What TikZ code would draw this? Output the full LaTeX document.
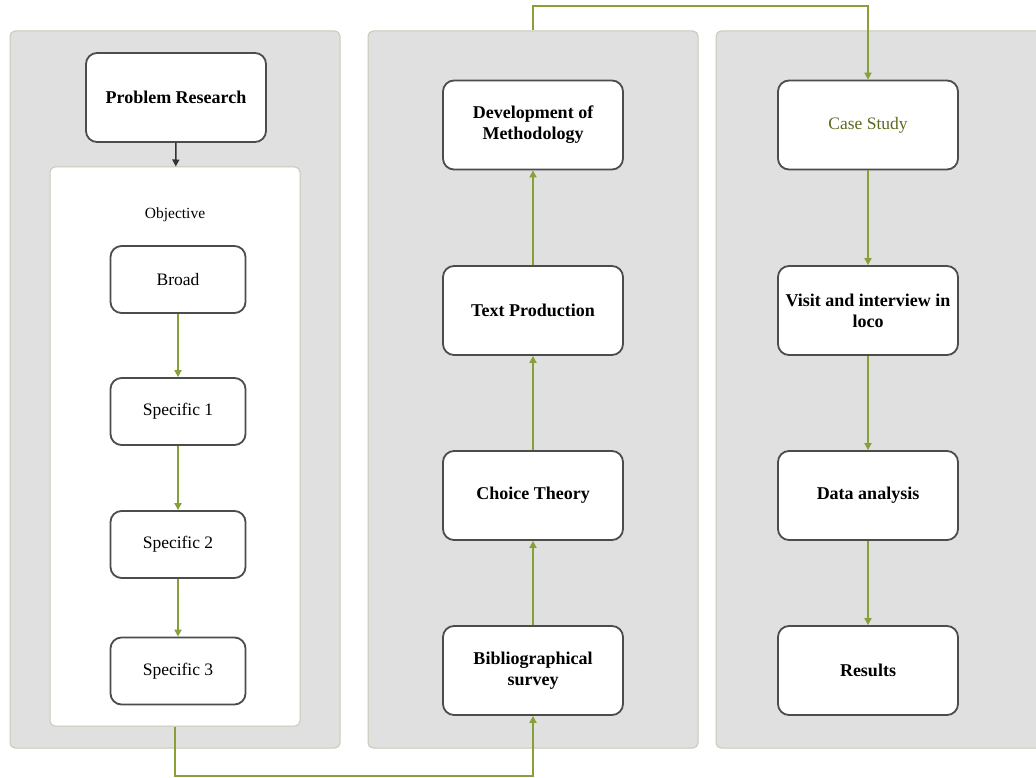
\documentclass[tikz,border=0pt]{standalone}
\usepackage{fontspec}
\setmainfont{Liberation Serif}
\usepackage{xcolor}
\usetikzlibrary{arrows.meta,positioning,calc}

\definecolor{panelgray}{RGB}{224,224,224}
\definecolor{panelline}{RGB}{200,200,184}
\definecolor{olive}{RGB}{135,160,55}
\definecolor{casegreen}{RGB}{95,105,30}

\tikzset{
  panel/.style={draw=panelline, fill=panelgray, rounded corners=5pt, line width=1pt},
  stepbox/.style={draw=black!70, fill=white, rounded corners=11pt, line width=1.8pt,
    minimum width=180pt, minimum height=89pt, align=center,
    font=\fontsize{18}{21}\selectfont\bfseries},
  smallbox/.style={stepbox, minimum width=135pt, minimum height=67pt,
    font=\fontsize{17.5}{21}\selectfont},
  flow/.style={draw=olive, line width=2pt, -{Triangle[width=7pt,length=7pt]}},
}

\begin{document}
\begin{tikzpicture}[x=1pt, y=-1pt]
  \useasboundingbox (0,0) rectangle (1036,778);

  % Panels
  \node[panel, minimum width=330pt, minimum height=717pt] (left)   at (175,389.5) {};
  \node[panel, minimum width=330pt, minimum height=717pt] (middle) at (533,389.5) {};
  \node[panel, minimum width=330pt, minimum height=717pt] (right)  at (881,389.5) {};

  % Left panel
  \node[stepbox] (problem) at (176,97.5) {Problem Research};
  \node[draw=panelline, fill=white, rounded corners=5pt, line width=1pt,
    minimum width=250pt, minimum height=559pt] (objective) at (175,446.5) {};
  \node[font=\fontsize{15.5}{18}\selectfont] (objtitle) at (175,215) {Objective};
  \node[smallbox] (broad) at (178,279.5) {Broad};
  \node[smallbox] (spec1) at (178,411.5) {Specific 1};
  \node[smallbox] (spec2) at (178,544.5) {Specific 2};
  \node[smallbox] (spec3) at (178,671)   {Specific 3};

  % Middle panel
  \node[stepbox] (method) at (533,125)   {Development of\\Methodology};
  \node[stepbox] (text)   at (533,310.5) {Text Production};
  \node[stepbox] (choice) at (533,495.5) {Choice Theory};
  \node[stepbox] (biblio) at (533,670.5) {Bibliographical\\survey};

  % Right panel
  \node[stepbox, font=\fontsize{17.5}{21}\selectfont, text=casegreen] (case) at (868,125) {Case Study};
  \node[stepbox] (visit)   at (868,310.5) {Visit and interview in\\loco};
  \node[stepbox] (data)    at (868,495.5) {Data analysis};
  \node[stepbox] (results) at (868,670.5) {Results};

  % Connectors
  \draw[line width=1.6pt, black!80, -{Triangle[width=7pt,length=7pt]}] (problem) -- (objective);
  \draw[flow] (broad) -- (spec1);
  \draw[flow] (spec1) -- (spec2);
  \draw[flow] (spec2) -- (spec3);

  \draw[flow] (objective.south) |- (533,776) -- (biblio.south);
  \draw[flow] (biblio) -- (choice);
  \draw[flow] (choice) -- (text);
  \draw[flow] (text) -- (method);

  \draw[flow] (middle.north) |- (868,6) -- (case.north);
  \draw[flow] (case) -- (visit);
  \draw[flow] (visit) -- (data);
  \draw[flow] (data) -- (results);
\end{tikzpicture}
\end{document}
